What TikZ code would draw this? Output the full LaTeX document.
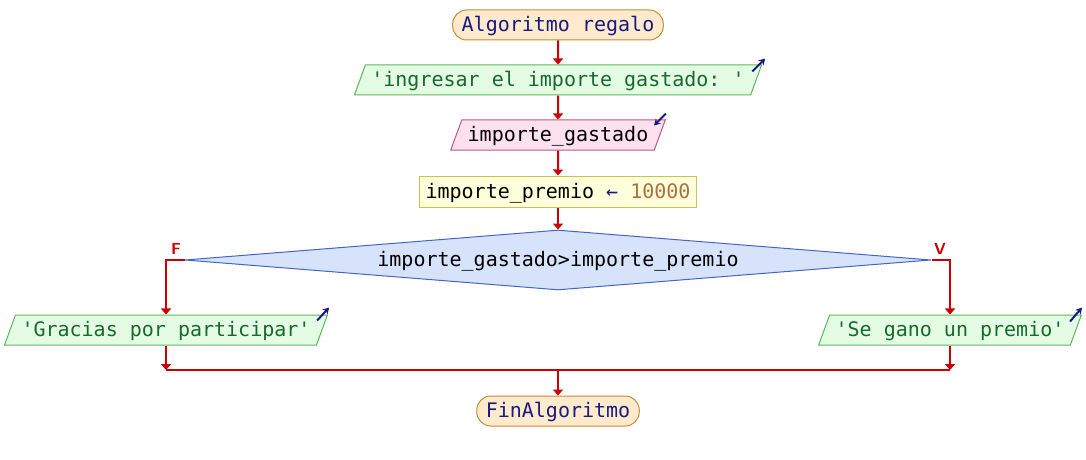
\documentclass[tikz,border=0pt]{standalone}
\usepackage{fontspec}
\setmonofont{DejaVu Sans Mono}
\usetikzlibrary{arrows.meta,shapes.geometric}
\definecolor{flowred}{HTML}{CC0000}
\definecolor{navytext}{HTML}{1A1A80}
\definecolor{termfill}{HTML}{FFEBCB}
\definecolor{termline}{HTML}{C88A3C}
\definecolor{outfill}{HTML}{E4FCE4}
\definecolor{outline}{HTML}{5CB85C}
\definecolor{outtext}{HTML}{17692E}
\definecolor{infill}{HTML}{FDE2EE}
\definecolor{inline}{HTML}{C2557E}
\definecolor{asgfill}{HTML}{FFFFDC}
\definecolor{asgline}{HTML}{C8C450}
\definecolor{numtext}{HTML}{B0703C}
\definecolor{condfill}{HTML}{D6E3FA}
\definecolor{condline}{HTML}{4564C8}

\begin{document}
\begin{tikzpicture}[x=0.5pt,y=-0.5pt,
  every node/.style={font=\ttfamily\fontsize{10}{12}\selectfont,text height=8pt,text depth=1.5pt},
  term/.style={draw=termline,fill=termfill,text=navytext,rounded corners=7pt,minimum height=15pt,inner xsep=4.5pt,inner ysep=0pt,line width=0.5pt},
  para/.style={trapezium,trapezium left angle=70,trapezium right angle=110,inner xsep=3pt,inner ysep=2.75pt,line width=0.5pt},
  outbox/.style={para,draw=outline,fill=outfill,text=outtext},
  inbox/.style={para,draw=inline,fill=infill,text=black},
  asgbox/.style={draw=asgline,fill=asgfill,minimum height=15.5pt,inner xsep=3pt,inner ysep=0pt,line width=0.5pt},
  condbox/.style={diamond,draw=condline,fill=condfill,shape aspect=12.4,minimum width=373pt,minimum height=30pt,inner sep=0pt,line width=0.5pt},
  flow/.style={flowred,line width=1pt,-{Triangle[width=5pt,length=3pt]}},
  icon/.style={navytext,line width=1pt,-{Stealth[length=3.2pt,width=3.6pt]}},
  branch/.style={flowred,font=\sffamily\bfseries\fontsize{8}{9}\selectfont,inner sep=0pt}
]
  \useasboundingbox (0,0) rectangle (1086,460);

  % Main column
  \node[term]   (start)  at (558,25)  {Algoritmo regalo};
  \node[outbox] (ask)    at (558,80)  {'ingresar el importe gastado: '};
  \node[inbox]  (read)   at (558,135) {importe\_gastado};
  \node[asgbox] (prize)  at (558,191.5) {importe\_premio \textcolor{navytext}{←} \textcolor{numtext}{10000}};
  \node[condbox] (cond)  at (558,260) {importe\_gastado>importe\_premio};

  % Branches
  \node[outbox] (thanks) at (166,330) {'Gracias por participar'};
  \node[outbox] (won)    at (950,330) {'Se gano un premio'};
  \node[branch] (lblF) at (176,248) {F};
  \node[branch] (lblV) at (940,248) {V};

  \coordinate (join) at (558,370);
  \node[term]   (stop)   at (558,411) {FinAlgoritmo};

  % Flow
  \draw[flow] (start) -- (ask);
  \draw[flow] (ask) -- (read);
  \draw[flow] (read) -- (prize);
  \draw[flow] (prize) -- (cond);
  \draw[flow] (cond.west) -| (thanks.north);
  \draw[flow] (cond.east) -| (won.north);
  \draw[flow] (thanks.south) -- (thanks.south |- join);
  \draw[flow] (won.south) -- (won.south |- join);
  \draw[flowred,line width=1pt] (thanks.south |- join) -- (won.south |- join);
  \draw[flow] (join) -- (stop);

  % In/out markers
  \draw[icon] ([shift={(-10,7)}]ask.top right corner) -- ++(13,-13);
  \draw[icon] ([shift={(0,-6)}]read.top right corner) -- ++(-12,12);
  \draw[icon] ([shift={(-11,6)}]thanks.top right corner) -- ++(12,-13);
  \draw[icon] ([shift={(-12,7)}]won.top right corner) -- ++(12,-14);
\end{tikzpicture}
\end{document}
